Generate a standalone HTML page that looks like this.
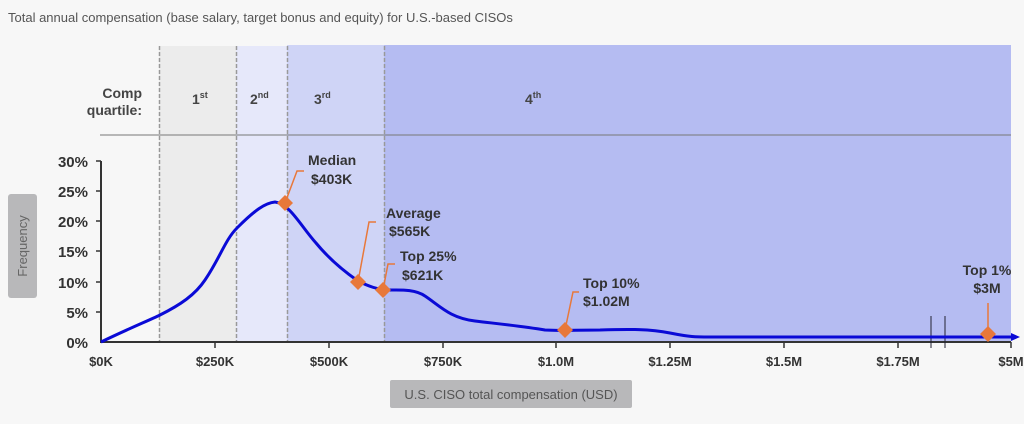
<!DOCTYPE html>
<html><head><style>
body{margin:0;background:#f7f7f7;width:1024px;height:419px;overflow:hidden;font-family:"Liberation Sans",sans-serif}
</style></head><body>
<svg width="1024" height="419" xmlns="http://www.w3.org/2000/svg" font-family="Liberation Sans, sans-serif">
<rect width="1024" height="419" fill="#f7f7f7"/>
<text x="8" y="22" font-size="13" fill="#555">Total annual compensation (base salary, target bonus and equity) for U.S.-based CISOs</text>
<rect x="159" y="46" width="77" height="296" fill="#ececec"/>
<rect x="236" y="46" width="51" height="296" fill="#e6e8fa"/>
<rect x="287" y="45" width="97" height="297" fill="#cfd4f6"/>
<rect x="384" y="45" width="627" height="297" fill="#b5bcf2"/>
<g stroke="#999" stroke-width="1.5" stroke-dasharray="4,2">
<line x1="159.5" y1="46" x2="159.5" y2="342"/><line x1="236.5" y1="46" x2="236.5" y2="342"/>
<line x1="287.5" y1="46" x2="287.5" y2="342"/><line x1="384.5" y1="46" x2="384.5" y2="342"/>
</g>
<line x1="100" y1="135" x2="1011" y2="135" stroke="#777" stroke-width="1"/>
<g font-size="14" fill="#444" font-weight="bold">
<text x="142" y="98" text-anchor="end">Comp</text>
<text x="142" y="115" text-anchor="end">quartile:</text>
<text x="192" y="104">1<tspan font-size="9" dy="-6">st</tspan></text>
<text x="250" y="104">2<tspan font-size="9" dy="-6">nd</tspan></text>
<text x="314" y="104">3<tspan font-size="9" dy="-6">rd</tspan></text>
<text x="525" y="104">4<tspan font-size="9" dy="-6">th</tspan></text>
</g>
<line x1="101" y1="161" x2="101" y2="343" stroke="#333" stroke-width="2"/>
<line x1="100" y1="342" x2="1011" y2="342" stroke="#333" stroke-width="2"/>
<g stroke="#333" stroke-width="1.5">
<line x1="96" y1="161" x2="101" y2="161"/><line x1="96" y1="191" x2="101" y2="191"/><line x1="96" y1="221" x2="101" y2="221"/><line x1="96" y1="251" x2="101" y2="251"/><line x1="96" y1="282" x2="101" y2="282"/><line x1="96" y1="312" x2="101" y2="312"/>
<line x1="215" y1="342" x2="215" y2="348"/><line x1="329" y1="342" x2="329" y2="348"/><line x1="443" y1="342" x2="443" y2="348"/><line x1="556" y1="342" x2="556" y2="348"/><line x1="670" y1="342" x2="670" y2="348"/><line x1="784" y1="342" x2="784" y2="348"/><line x1="898" y1="342" x2="898" y2="348"/><line x1="1011" y1="342" x2="1011" y2="348"/>
</g>
<g stroke="#223" stroke-width="1"><line x1="931" y1="316" x2="931" y2="348"/><line x1="945" y1="316" x2="945" y2="348"/></g>
<g font-size="15" fill="#333" font-weight="bold" text-anchor="end">
<text x="88" y="167">30%</text><text x="88" y="197">25%</text><text x="88" y="227">20%</text><text x="88" y="257">15%</text><text x="88" y="288">10%</text><text x="88" y="318">5%</text><text x="88" y="348">0%</text>
</g>
<g font-size="13" fill="#333" font-weight="bold" text-anchor="middle">
<text x="101" y="366">$0K</text><text x="215" y="366">$250K</text><text x="329" y="366">$500K</text><text x="443" y="366">$750K</text><text x="556" y="366">$1.0M</text><text x="670" y="366">$1.25M</text><text x="784" y="366">$1.5M</text><text x="898" y="366">$1.75M</text><text x="1011" y="366">$5M</text>
</g>
<rect x="8" y="194" width="29" height="104" rx="3" fill="#b8b8ba"/>
<text transform="translate(27,246) rotate(-90)" font-size="13" fill="#666" text-anchor="middle">Frequency</text>
<rect x="390" y="380" width="242" height="28" rx="2" fill="#b8b8ba"/>
<text x="511" y="399" font-size="13" fill="#555" text-anchor="middle">U.S. CISO total compensation (USD)</text>
<path d="M101,342 C130,328 150,320 160,315 C180,305 195,295 205,280 C220,258 225,240 237,228 C255,210 265,203 275,202 C290,204 300,225 316,243 C330,260 345,272 358,281 C368,286 378,290 390,290 C400,290 415,289 425,296 C440,306 450,318 475,321 C500,324 520,326 545,330 C560,331 575,330 600,330 C630,329 650,329 670,333 C690,337 695,337 710,337 L1011,337" fill="none" stroke="#0a0ad6" stroke-width="3"/>
<polygon points="1011,333 1020,337 1011,341" fill="#0a0ad6"/>
<g stroke="#e8783a" stroke-width="1.5" fill="none">
<polyline points="285,203 297,171 304,171"/>
<polyline points="358,282 369,222 376,222"/>
<polyline points="383,290 388,264 395,264"/>
<polyline points="565,330 573,292 579,292"/>
<polyline points="988,334 988,303"/>
</g>
<g fill="#e8783a">
<polygon points="285,195 293,203 285,211 277,203"/>
<polygon points="358,274 366,282 358,290 350,282"/>
<polygon points="383,282 391,290 383,298 375,290"/>
<polygon points="565,322 573,330 565,338 557,330"/>
<polygon points="988,326 996,334 988,342 980,334"/>
</g>
<g font-size="14" fill="#333" font-weight="bold">
<text x="308" y="165">Median</text><text x="311" y="184">$403K</text>
<text x="386" y="218">Average</text><text x="389" y="236">$565K</text>
<text x="400" y="261">Top 25%</text><text x="402" y="280">$621K</text>
<text x="583" y="288">Top 10%</text><text x="583" y="306">$1.02M</text>
<text x="987" y="275" text-anchor="middle">Top 1%</text><text x="987" y="293" text-anchor="middle">$3M</text>
</g>
</svg>
</body></html>
